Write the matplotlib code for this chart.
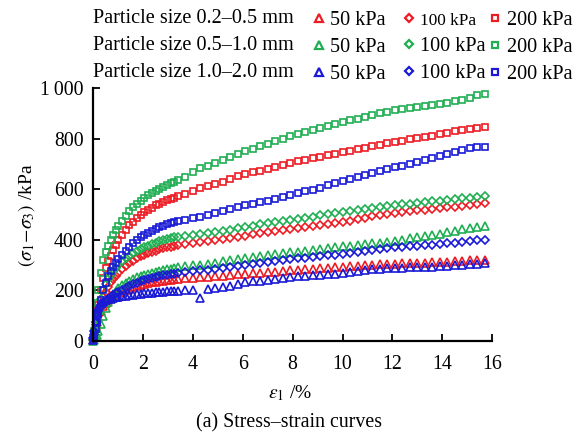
import matplotlib
matplotlib.use("Agg")
import matplotlib.pyplot as plt
from matplotlib.lines import Line2D
from matplotlib.ticker import FuncFormatter

plt.rcParams['font.family'] = ['Liberation Serif', 'DejaVu Serif']
plt.rcParams['mathtext.fontset'] = 'stix'

# axial strain (%) shared by all curves
strain_early = [0, 0.05, 0.1, 0.15, 0.2, 0.3, 0.4, 0.5, 0.6, 0.7, 0.8, 0.9, 1.0,
                1.15, 1.3, 1.45, 1.6, 1.75, 1.9, 2.05, 2.2, 2.35, 2.5, 2.65, 2.8,
                2.95, 3.1, 3.25, 3.4]
strain_late = [3.7, 4.0, 4.3, 4.6, 4.9, 5.2, 5.5, 5.8, 6.1, 6.4, 6.7, 7.0, 7.3, 7.6,
               7.9, 8.2, 8.5, 8.8, 9.1, 9.4, 9.7, 10.0, 10.3, 10.6, 10.9, 11.2, 11.5,
               11.8, 12.1, 12.4, 12.7, 13.0, 13.3, 13.6, 13.9, 14.2, 14.5, 14.8, 15.1,
               15.4, 15.7]
strain = strain_early + strain_late

# deviator stress (kPa), particle size 0.2-0.5 mm (red)
red_50 = [5, 25, 50, 75, 95, 120, 138, 150, 160, 168, 175, 182, 188, 195, 201, 207,
          212, 217, 221, 225, 228, 231, 233, 235, 237, 239, 241, 243, 245,
          247, 249, 251, 253, 256, 258, 261, 264, 266, 268, 270, 272, 274, 277, 279,
          281, 283, 285, 287, 289, 291, 293, 295, 297, 299, 301, 303, 305, 306, 307,
          308, 309, 310, 311, 312, 313, 315, 317, 318, 320, 321]
red_100 = [5, 20, 45, 75, 100, 140, 172, 195, 215, 232, 246, 258, 269, 283, 296, 307,
           317, 326, 334, 341, 347, 352, 357, 362, 366, 370, 373, 376, 379,
           383, 388, 392, 396, 400, 404, 408, 412, 416, 421, 426, 431, 436, 440, 444,
           448, 451, 455, 459, 463, 467, 470, 475, 481, 487, 493, 498, 503, 507, 510,
           513, 516, 519, 522, 525, 528, 531, 535, 538, 541, 546]
red_200 = [5, 25, 60, 100, 140, 200, 250, 290, 315, 335, 360, 380, 398, 420, 440, 457,
           472, 485, 497, 508, 518, 527, 536, 543, 550, 556, 562, 567, 572,
           582, 594, 603, 612, 621, 630, 640, 652, 660, 667, 674, 681, 688, 695, 703,
           710, 716, 722, 728, 734, 740, 746, 752, 758, 764, 770, 776, 782, 787, 792,
           797, 802, 807, 812, 818, 824, 830, 834, 838, 843, 848]

# particle size 0.5-1.0 mm (green)
green_50 = [0, 5, 15, 25, 40, 65, 100, 130, 152, 170, 185, 198, 208, 220, 230, 238,
            245, 251, 256, 261, 265, 269, 273, 277, 280, 283, 286, 289, 291,
            295, 299, 302, 306, 310, 314, 318, 322, 326, 330, 334, 338, 342, 346, 350,
            353, 356, 359, 362, 366, 370, 374, 377, 380, 383, 386, 389, 393, 397, 401,
            406, 411, 416, 420, 424, 430, 436, 441, 446, 450, 453]
green_100 = [5, 25, 55, 90, 120, 165, 200, 225, 245, 262, 277, 290, 300, 314, 326, 337,
             347, 356, 364, 371, 377, 383, 389, 394, 398, 402, 406, 409, 412,
             416, 420, 423, 427, 431, 435, 440, 446, 451, 456, 461, 466, 470, 475, 480,
             484, 488, 492, 496, 500, 504, 508, 512, 517, 521, 525, 529, 533, 537, 540,
             543, 546, 549, 552, 555, 558, 561, 564, 566, 570, 574]
green_200 = [10, 40, 90, 150, 200, 270, 320, 350, 375, 400, 420, 440, 455, 475, 495, 512,
             528, 542, 555, 566, 576, 585, 594, 602, 610, 617, 624, 630, 637,
             650, 670, 682, 693, 705, 716, 728, 740, 750, 760, 770, 780, 790, 800, 810,
             818, 826, 834, 842, 850, 858, 865, 872, 879, 886, 893, 900, 906, 912, 916,
             920, 924, 928, 933, 938, 943, 948, 955, 962, 972, 975]

# particle size 1.0-2.0 mm (blue)
blue_50 = [5, 40, 80, 115, 135, 148, 155, 160, 164, 167, 170, 172, 174, 176, 178, 180,
           182, 184, 186, 188, 189, 190, 192, 193, 195, 196, 197, 198, 199,
           201, 203, 168, 207, 210, 214, 218, 224, 232, 235, 238, 241, 244, 248, 252,
           255, 257, 259, 261, 264, 266, 269, 272, 276, 280, 283, 286, 288, 289, 290,
           291, 292, 293, 294, 295, 297, 299, 301, 303, 306, 308]
blue_100 = [10, 40, 75, 100, 118, 135, 148, 158, 166, 174, 182, 189, 195, 203, 210, 217,
            224, 230, 236, 241, 245, 249, 253, 256, 259, 262, 264, 266, 268,
            272, 276, 279, 282, 286, 290, 294, 298, 302, 305, 309, 313, 316, 320, 323,
            326, 329, 332, 335, 338, 341, 344, 348, 352, 356, 360, 364, 367, 370, 372,
            374, 376, 378, 380, 383, 386, 389, 392, 395, 398, 400]
blue_200 = [5, 20, 45, 75, 105, 160, 200, 230, 255, 275, 293, 308, 322, 340, 357, 372,
            386, 398, 409, 419, 428, 436, 443, 450, 456, 461, 466, 470, 474,
            480, 486, 492, 499, 506, 513, 520, 530, 538, 543, 548, 554, 560, 568, 578,
            586, 592, 598, 606, 615, 625, 634, 641, 648, 656, 664, 672, 680, 686, 692,
            698, 706, 714, 722, 730, 740, 748, 756, 763, 766, 768]

size_labels = ['Particle size 0.2\u20130.5 mm', 'Particle size 0.5\u20131.0 mm',
               'Particle size 1.0\u20132.0 mm']
pressure_labels = ['50 kPa', '100 kPa', '200 kPa']

RED, GREEN, BLUE = '#ec1c24', '#1fae52', '#1a1ad6'
colors = [RED, GREEN, BLUE]
markers = ['^', 'D', 's']
msizes = [5.6, 3.7, 4.7]

groups = [[red_50, red_100, red_200],
          [green_50, green_100, green_200],
          [blue_50, blue_100, blue_200]]

fig = plt.figure(figsize=(5.79, 4.32), dpi=100)
ax = fig.add_axes([0.161, 0.211, 0.689, 0.585])

for col, series in zip(colors, groups):
    for mk, ms, vals in zip(markers, msizes, series):
        ax.plot(strain, vals, linestyle='none', marker=mk, ms=ms, mfc='none',
                mec=col, mew=1.2, clip_on=False)

ax.set_xlim(0, 16)
ax.set_ylim(0, 1000)
ax.set_xticks(range(0, 17, 2))
ax.set_yticks(range(0, 1001, 200))
ax.yaxis.set_major_formatter(FuncFormatter(lambda v, p: '1\u2009000' if v == 1000 else f'{int(v)}'))
ax.spines['top'].set_visible(False)
ax.spines['right'].set_visible(False)
for s in ['left', 'bottom']:
    ax.spines[s].set_linewidth(1.6)
ax.tick_params(direction='in', length=5, width=1.3, labelsize=14.3)
ax.tick_params(axis='x', pad=10)
ax.tick_params(axis='y', pad=7)

ax.set_xlabel(r'$\varepsilon_1$ /%', fontsize=14)
ax.set_ylabel(r'$(\sigma_1\!-\!\sigma_3)$ /kPa', fontsize=14)
ax.xaxis.label.set_va('center')
ax.yaxis.label.set_va('center')
ax.xaxis.set_label_coords(0.494, -0.205)
ax.yaxis.set_label_coords(-0.168, 0.498)
fig.text(0.5, 0.022, '(a) Stress\u2013strain curves', ha='center', va='center', fontsize=14.3)

# legend: row labels, then one column of markers per confining pressure
row_y = [0.957, 0.895, 0.833]
for lab, y in zip(size_labels, row_y):
    fig.text(0.161, y, lab, ha='left', va='center', fontsize=14.6)

col_x = [0.513, 0.668, 0.817]
for j in range(3):
    handles = [Line2D([], [], linestyle='none', marker=markers[j], ms=msizes[j],
                      mfc='none', mec=colors[i], mew=1.6) for i in range(3)]
    leg = fig.legend(handles, [pressure_labels[j]] * 3, loc='upper left',
                     bbox_to_anchor=(col_x[j], 1.013), frameon=False, fontsize=14.6,
                     handlelength=0.6, handletextpad=0.25, labelspacing=0.38,
                     borderpad=0.3)
    if j == 1:
        leg.get_texts()[0].set_fontsize(12.4)

fig.savefig('out.png', dpi=100)
